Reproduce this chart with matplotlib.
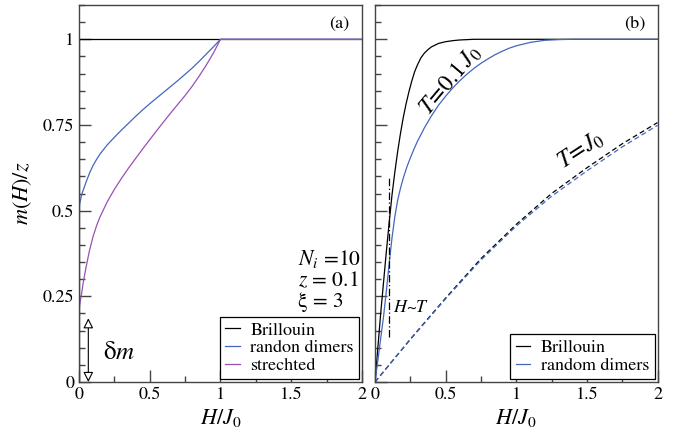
import numpy as np
import matplotlib
matplotlib.use('Agg')
import matplotlib.pyplot as plt
from matplotlib.ticker import MultipleLocator

plt.rcParams['font.family'] = ['STIXGeneral', 'DejaVu Serif']
plt.rcParams['mathtext.fontset'] = 'stix'

# (a) zero temperature magnetization curves
h_a = [0, 0.005, 0.01, 0.02, 0.03, 0.05, 0.075, 0.1, 0.125, 0.15, 0.2, 0.25, 0.3, 0.35, 0.4,
       0.45, 0.5, 0.55, 0.6, 0.65, 0.7, 0.75, 0.8, 0.85, 0.9, 0.95, 1.0, 2.0]
m_dimers_a = [0.5, 0.52, 0.53, 0.548, 0.56, 0.583, 0.61, 0.632, 0.65, 0.666, 0.692, 0.714, 0.735, 0.755, 0.775,
              0.794, 0.812, 0.829, 0.846, 0.863, 0.88, 0.898, 0.916, 0.936, 0.957, 0.978, 1.0, 1.0]
m_stretched_a = [0.2, 0.225, 0.238, 0.262, 0.29, 0.335, 0.385, 0.425, 0.457, 0.483, 0.526, 0.562, 0.594, 0.624, 0.652,
                 0.68, 0.707, 0.734, 0.76, 0.786, 0.811, 0.836, 0.863, 0.893, 0.925, 0.96, 1.0, 1.0]
h_brill_a = [0, 0, 2]
m_brill_a = [0, 1, 1]

# (b) T = 0.1 J0
h_brill_low = [0, 0.02, 0.04, 0.06, 0.08, 0.1, 0.12, 0.14, 0.16, 0.18, 0.2, 0.22, 0.24, 0.26, 0.28,
               0.3, 0.325, 0.35, 0.375, 0.4, 0.45, 0.5, 0.55, 0.6, 0.7, 0.8, 2.0]
m_brill_low = [0, 0.1, 0.2, 0.29, 0.38, 0.465, 0.545, 0.612, 0.672, 0.725, 0.772, 0.812, 0.847, 0.878, 0.905,
               0.925, 0.946, 0.96, 0.97, 0.978, 0.988, 0.993, 0.996, 0.998, 1.0, 1.0, 1.0]
h_dimers_low = [0, 0.02, 0.04, 0.06, 0.08, 0.1, 0.12, 0.14, 0.16, 0.18, 0.2, 0.225, 0.25, 0.275, 0.3,
                0.35, 0.4, 0.45, 0.5, 0.55, 0.6, 0.65, 0.7, 0.75, 0.8, 0.85, 0.9, 0.95, 1.0,
                1.1, 1.2, 1.3, 1.4, 2.0]
m_dimers_low = [0, 0.063, 0.127, 0.19, 0.265, 0.345, 0.42, 0.482, 0.53, 0.565, 0.595, 0.627, 0.654, 0.679, 0.702,
                0.742, 0.777, 0.808, 0.834, 0.858, 0.879, 0.898, 0.915, 0.93, 0.943, 0.955, 0.965, 0.974, 0.981,
                0.991, 0.997, 0.999, 1.0, 1.0]

# (b) T = J0
h_high = [0, 0.25, 0.5, 0.75, 1.0, 1.25, 1.5, 1.75, 2.0]
m_brill_high = [0, 0.125, 0.245, 0.36, 0.46, 0.55, 0.625, 0.695, 0.757]
m_dimers_high = [0, 0.124, 0.243, 0.356, 0.455, 0.542, 0.616, 0.686, 0.749]

blue = '#4466bb'
purple = '#9a4fb5'
spine_col = '#444444'

fig = plt.figure(figsize=(6.82, 4.4), dpi=100)
ax1 = fig.add_axes([0.1158, 0.1318, 0.415, 0.8568])
ax2 = fig.add_axes([0.5499, 0.1318, 0.4142, 0.8568])


def style_axes(ax):
    ax.set_xlim(0, 2)
    ax.set_ylim(0, 1.1)
    ax.xaxis.set_major_locator(MultipleLocator(0.5))
    ax.xaxis.set_minor_locator(MultipleLocator(0.25))
    ax.yaxis.set_major_locator(MultipleLocator(0.25))
    ax.yaxis.set_minor_locator(MultipleLocator(0.05))
    ax.set_xticks([0, 0.5, 1, 1.5, 2])
    ax.set_xticklabels(['0', '0.5', '1', '1.5', '2'])
    ax.tick_params(which='both', direction='in', top=False, right=False, color=spine_col, labelsize=13)
    ax.tick_params(which='major', length=8.6, width=1.0)
    ax.tick_params(which='minor', length=4.5, width=1.0)
    for s in ax.spines.values():
        s.set_color(spine_col)
        s.set_linewidth(1.0)
    ax.set_xlabel(r'$H/J_0$', fontsize=16, labelpad=3)


style_axes(ax1)
style_axes(ax2)

ax1.plot(h_brill_a, m_brill_a, color='black', lw=0.9, label='Brillouin')
ax1.plot(h_a, m_dimers_a, color=blue, lw=0.9, label='randon dimers')
ax1.plot(h_a, m_stretched_a, color=purple, lw=0.9, label='strechted')
ax1.set_yticks([0, 0.25, 0.5, 0.75, 1])
ax1.set_yticklabels(['0', '0.25', '0.5', '0.75', '1'])
ax1.set_ylabel(r'$m(H)/z$', fontsize=16, labelpad=6)
ax1.text(1.84, 1.045, '(a)', fontsize=13, ha='center', va='center')
ax1.text(1.55, 0.36, r'$N_i$ =10', fontsize=15.5, ha='left', va='center')
ax1.text(1.55, 0.295, r'$z$ = 0.1', fontsize=15.5, ha='left', va='center')
ax1.text(1.55, 0.232, 'ξ = 3', fontsize=15.5, ha='left', va='center')
ax1.annotate('', xy=(0.066, 0.0), xytext=(0.066, 0.186),
             arrowprops=dict(arrowstyle='<|-|>', fc='white', ec='black', lw=0.8,
                             mutation_scale=15, shrinkA=0, shrinkB=0))
ax1.text(0.17, 0.085, 'δ$m$', fontsize=18, ha='left', va='center')
leg1 = ax1.legend(loc='lower right', fontsize=13, handlelength=0.8, handletextpad=0.6,
                  labelspacing=0.05, borderpad=0.3, borderaxespad=0.15, fancybox=False,
                  framealpha=1)
leg1.get_frame().set_edgecolor('black')
leg1.get_frame().set_linewidth(0.9)

dash = (0, (4, 2.5))
ax2.plot(h_brill_low, m_brill_low, color='black', lw=0.9, label='Brillouin')
ax2.plot(h_dimers_low, m_dimers_low, color=blue, lw=0.9, label='random dimers')
ax2.plot(h_high, m_brill_high, color='black', lw=0.9, linestyle=dash)
ax2.plot(h_high, m_dimers_high, color=blue, lw=0.9, linestyle=dash)
ax2.plot([0.1, 0.1], [0.13, 0.6], color='black', lw=0.9, linestyle=(0, (6, 2, 1, 2)))
ax2.set_yticks([0, 0.25, 0.5, 0.75, 1])
ax2.set_yticklabels([])
ax2.text(1.84, 1.045, '(b)', fontsize=13, ha='center', va='center')
ax2.text(0.54, 0.88, r'$T\!=\!0.1\,J_0$', fontsize=17, rotation=50, ha='center', va='center')
ax2.text(1.46, 0.676, r'$T\!=\!J_0$', fontsize=17, rotation=33, ha='center', va='center')
ax2.text(0.125, 0.215, r'$H$~$T$', fontsize=13, ha='left', va='center')
leg2 = ax2.legend(loc='lower right', fontsize=13, handlelength=0.8, handletextpad=0.6,
                  labelspacing=0.05, borderpad=0.3, borderaxespad=0.15, fancybox=False,
                  framealpha=1)
leg2.get_frame().set_edgecolor('black')
leg2.get_frame().set_linewidth(0.9)

plt.savefig('out.png', dpi=100)
